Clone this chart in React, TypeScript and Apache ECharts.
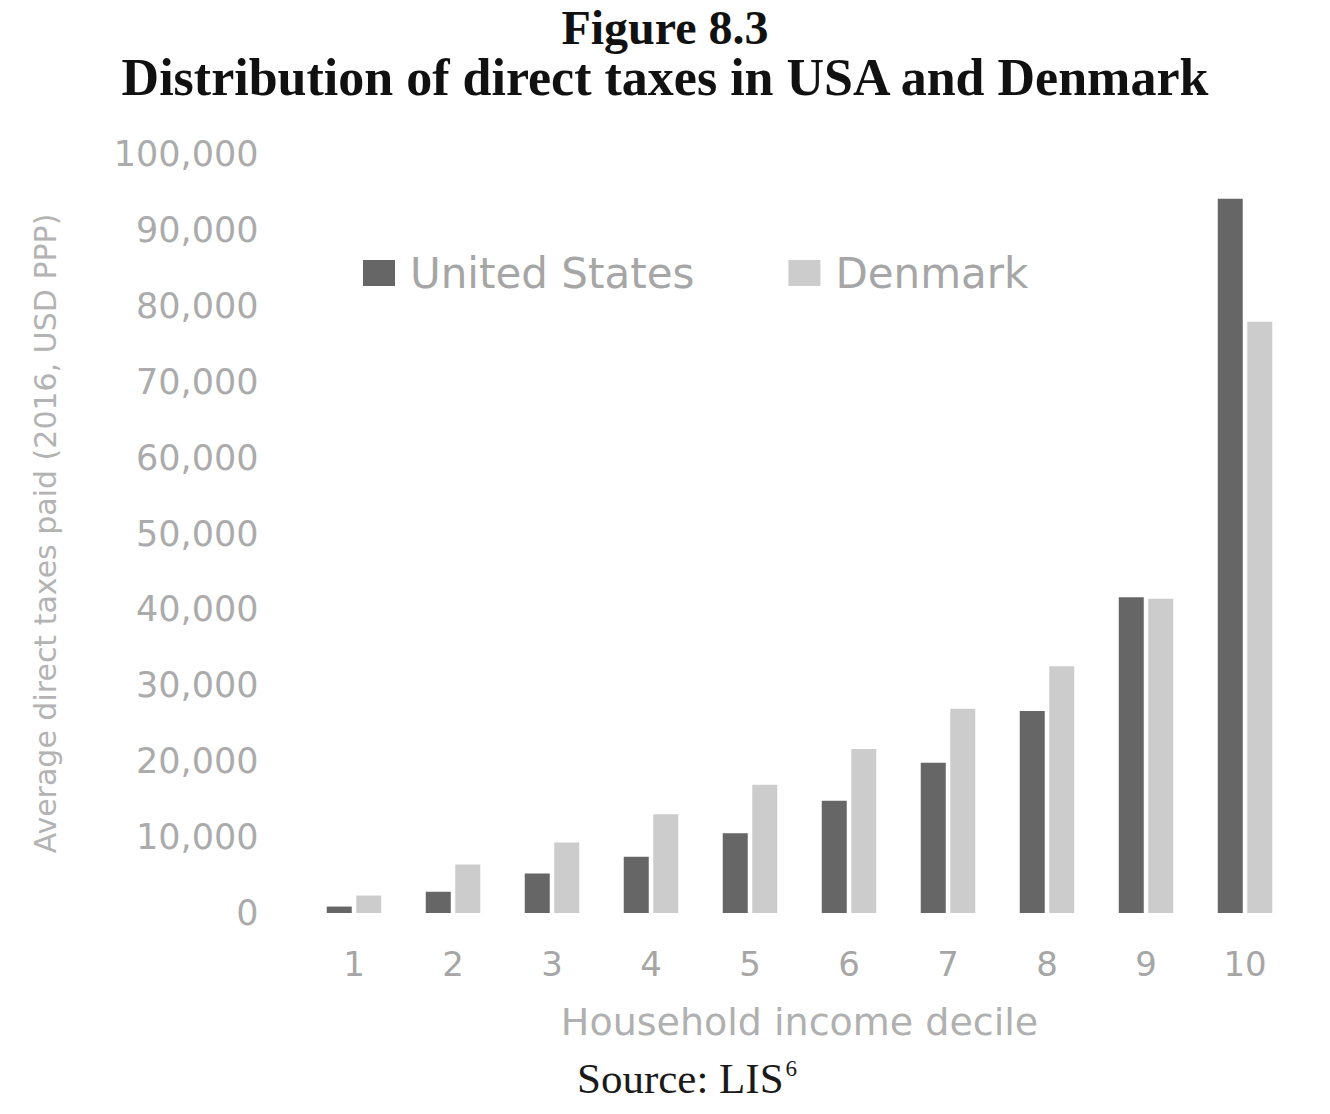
import React, { useEffect, useRef } from "react";
import * as echarts from "echarts";

const deciles = ["1", "2", "3", "4", "5", "6", "7", "8", "9", "10"];
const unitedStates = [850, 2800, 5200, 7400, 10500, 14800, 19800, 26600, 41600, 94100];
const denmark = [2300, 6400, 9300, 13000, 16900, 21600, 26900, 32500, 41400, 77900];
const yTicks = { min: 0, max: 100000, interval: 10000 };

const fmt = (v: number) => v.toLocaleString("en-US");

export default function App() {
  const ref = useRef<HTMLDivElement>(null);
  useEffect(() => {
    document.body.style.margin = "0";
    const chart = echarts.init(ref.current!, undefined, { renderer: "svg" });
    const sans = "'DejaVu Sans', sans-serif";
    const serif = "'Liberation Serif', serif";
    chart.setOption({
      animation: false,
      backgroundColor: "#ffffff",
      title: [
        {
          text: "Figure 8.3",
          left: "center",
          top: 5,
          padding: 0,
          textStyle: { fontFamily: serif, fontWeight: "bold", fontSize: 48, lineHeight: 44, color: "#111" },
        },
        {
          text: "Distribution of direct taxes in USA and Denmark",
          left: "center",
          top: 51,
          padding: 0,
          textStyle: { fontFamily: serif, fontWeight: "bold", fontSize: 52, lineHeight: 52, color: "#111" },
        },
      ],
      legend: {
        left: 358,
        top: 247,
        itemWidth: 32,
        itemHeight: 26,
        itemGap: 94,
        icon: "rect",
        textStyle: { fontFamily: sans, fontSize: 42, color: "#a6a6a6", padding: [0, 0, 0, 10] },
        data: ["United States", "Denmark"],
      },
      grid: { left: 304.5, right: 35.5, top: 154, bottom: 201 },
      xAxis: {
        type: "category",
        data: deciles,
        axisLine: { show: false },
        axisTick: { show: false },
        axisLabel: { fontFamily: sans, fontSize: 34, color: "#a6a6a6", margin: 34 },
        name: "Household income decile",
        nameLocation: "middle",
        nameGap: 90,
        nameTextStyle: { fontFamily: sans, fontSize: 38, color: "#b0b0b0" },
      },
      yAxis: {
        type: "value",
        min: yTicks.min,
        max: yTicks.max,
        interval: yTicks.interval,
        splitLine: { show: false },
        axisLine: { show: false },
        axisTick: { show: false },
        axisLabel: { fontFamily: sans, fontSize: 35, color: "#ababab", margin: 46, formatter: (v: number) => fmt(v) },
        name: "Average direct taxes paid (2016, USD PPP)",
        nameLocation: "middle",
        nameRotate: 90,
        nameGap: 244,
        nameTextStyle: { fontFamily: sans, fontSize: 30, color: "#b3b3b3" },
      },
      series: [
        {
          name: "United States",
          type: "bar",
          data: unitedStates,
          barWidth: 25,
          barGap: "18%",
          itemStyle: { color: "#666666" },
        },
        {
          name: "Denmark",
          type: "bar",
          data: denmark,
          barWidth: 25,
          barGap: "18%",
          itemStyle: { color: "#cccccc" },
        },
      ],
      graphic: [
        {
          type: "text",
          left: 577,
          top: 1057,
          style: {
            text: "{a|Source: LIS}{b|6}",
            rich: {
              a: { fontFamily: serif, fontSize: 43, fill: "#1a1a1a" },
              b: { fontFamily: serif, fontSize: 23, fill: "#1a1a1a", padding: [0, 0, 20, 2] },
            },
          },
        },
      ],
    });
    return () => chart.dispose();
  }, []);
  return <div ref={ref} style={{ width: 1330, height: 1114 }} />;
}
